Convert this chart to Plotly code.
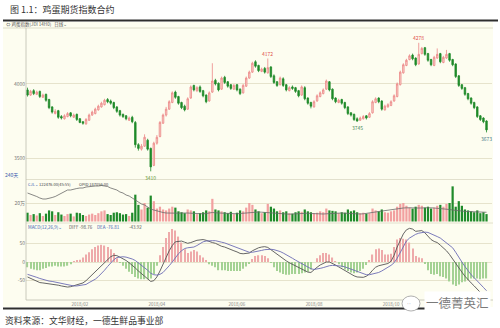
import plotly.graph_objects as go

W, H = 500, 328
FONT = "Noto Sans CJK SC, Noto Sans, sans-serif"

# ---------------- data ----------------
opens = [3960,3925,3955,3930,3950,3910,3930,3895,3845,3800,
         3820,3780,3765,3780,3805,3775,3795,3765,3745,3730,
         3755,3790,3800,3825,3845,3860,3895,3885,3875,3845,
         3820,3795,3785,3755,3775,3740,3590,3560,3580,3620,
         3565,3450,3600,3645,3735,3790,3830,3875,3945,3915,
         3875,3850,3830,3905,3990,3955,3980,3955,3925,3885,
         3945,4025,4005,3965,4045,4015,3995,3965,3995,3965,
         3940,3985,4040,4080,4150,4125,4085,4105,4075,4115,
         4055,4015,3995,4035,3995,3955,3980,3975,3955,3925,
         3975,3905,3875,3845,3885,3915,3935,3965,4015,3965,
         3905,3875,3895,3875,3845,3805,3795,3765,3755,3765,
         3785,3775,3805,3875,3905,3885,3825,3845,3855,3885,
         3915,3995,4075,4125,4165,4195,4175,4135,4205,4245,
         4205,4165,4125,4175,4205,4145,4175,4205,4165,4135,
         4055,3995,3975,3935,3905,3875,3845,3785,3770,3750]
highs = [3975,3960,3965,3955,3955,3935,3935,3900,3850,3830,
         3825,3790,3795,3810,3810,3800,3800,3770,3750,3770,
         3800,3820,3840,3860,3880,3900,3905,3895,3880,3850,
         3825,3800,3790,3780,3785,3750,3600,3595,3660,3630,
         3570,3610,3655,3750,3800,3845,3890,3950,3955,3920,
         3880,3860,3910,3990,3995,3985,3990,3960,3930,3950,
         4140,4035,4010,4050,4055,4020,4000,4000,4000,3970,
         4000,4050,4090,4150,4160,4130,4110,4115,4172,4120,
         4065,4020,4050,4045,4000,3985,3990,3980,3960,3990,
         3985,3910,3880,3890,3930,3950,3970,4030,4020,3970,
         3910,3900,3900,3880,3850,3810,3800,3775,3780,3790,
         3790,3810,3890,3910,3910,3890,3860,3870,3890,3930,
         4010,4090,4140,4170,4200,4205,4180,4278,4250,4250,
         4210,4170,4190,4240,4210,4190,4230,4210,4170,4140,
         4060,4000,3980,3940,3910,3880,3850,3790,3775,3755]
lows = [3915,3920,3925,3925,3905,3905,3880,3830,3800,3795,
        3765,3760,3760,3775,3775,3770,3750,3735,3725,3725,
        3750,3785,3795,3820,3840,3855,3870,3860,3830,3805,
        3780,3770,3755,3750,3735,3570,3550,3550,3575,3550,
        3410,3445,3590,3640,3730,3780,3825,3870,3900,3860,
        3830,3815,3825,3900,3950,3945,3940,3910,3870,3880,
        3940,3990,3950,3960,4000,3975,3960,3960,3950,3925,
        3935,3980,4035,4075,4110,4080,4080,4070,4070,4040,
        4000,3980,3990,3980,3950,3950,3960,3940,3910,3920,
        3890,3860,3835,3840,3880,3910,3930,3960,3950,3890,
        3870,3870,3860,3830,3790,3780,3750,3745,3750,3760,
        3760,3770,3800,3870,3870,3820,3820,3840,3850,3880,
        3910,3990,4070,4120,4160,4160,4120,4130,4200,4190,
        4150,4120,4120,4170,4140,4140,4170,4150,4120,4040,
        3980,3960,3920,3890,3860,3830,3770,3750,3735,3673]
closes = [3925,3950,3935,3945,3915,3925,3890,3840,3810,3815,
          3775,3770,3785,3800,3785,3790,3760,3740,3735,3760,
          3790,3810,3830,3850,3870,3890,3880,3870,3840,3815,
          3790,3780,3765,3770,3745,3590,3565,3580,3640,3560,
          3440,3600,3640,3740,3790,3830,3880,3940,3910,3870,
          3840,3825,3900,3980,3960,3975,3950,3920,3880,3940,
          4020,4000,3960,4040,4010,3985,3970,3990,3960,3935,
          3990,4040,4080,4140,4120,4090,4100,4080,4110,4050,
          4010,3990,4040,3990,3960,3975,3970,3950,3920,3980,
          3900,3870,3850,3880,3920,3940,3960,4020,3960,3900,
          3880,3890,3870,3840,3800,3790,3760,3750,3770,3780,
          3770,3800,3880,3900,3880,3830,3850,3860,3880,3920,
          4000,4080,4130,4160,4190,4170,4130,4200,4240,4200,
          4160,4130,4180,4200,4150,4180,4200,4160,4130,4050,
          3990,3970,3930,3900,3870,3840,3780,3760,3745,3690]

# volume (thousand lots)
volume_k = [95,70,80,65,90,60,85,120,110,70,
            100,75,60,80,85,55,95,90,70,60,
            75,85,70,90,110,120,80,70,95,100,
            90,75,80,60,95,290,180,130,200,150,
            280,220,140,160,130,120,140,160,150,110,
            100,90,130,120,110,80,90,100,120,110,
            245,130,120,110,100,90,105,80,95,120,
            110,150,200,180,130,110,90,100,190,160,
            140,110,120,100,110,90,85,100,110,105,
            130,110,100,90,95,110,100,140,120,115,
            110,90,100,95,130,110,120,100,90,95,
            85,90,140,120,110,130,100,95,110,120,
            160,190,200,170,150,140,160,180,170,150,
            160,140,150,170,180,160,190,200,380,160,
            220,170,130,120,110,100,120,90,100,80]

# open interest (thousand lots)
oi_k = [380,370,360,345,330,320,320,325,335,345,
        360,380,395,410,410,420,425,430,430,440,
        445,445,450,450,455,450,445,430,420,410,
        390,380,360,350,330,310,290,270,260,240,
        220,210,200,190,185,180,178,175,175,178,
        180,182,180,178,175,172,170,172,175,180,
        185,182,180,178,175,172,170,170,172,175,
        178,180,185,190,192,190,188,185,182,180,
        178,175,172,170,168,168,170,172,175,178,
        180,178,175,172,170,168,170,172,175,178,
        180,182,180,178,175,172,170,168,170,172,
        175,180,185,190,195,200,205,210,215,220,
        225,228,230,232,235,232,230,228,230,232,
        235,232,230,228,225,222,220,215,210,205,
        200,198,196,195,193,192,190,189,188,187.056]

diff = [-40,-44,-48,-52,-55,-56,-57,-57,-58,-59,
        -62,-64,-66,-67,-66,-64,-62,-60,-56,-50,
        -42,-34,-26,-17,-8,0,8,14,18,17,
        13,9,4,-2,-8,-16,-24,-32,-38,-45,
        -52,-50,-40,-24,-8,12,30,44,54,56,
        56,53,50,52,56,58,59,60,58,54,
        52,50,45,42,40,36,33,30,27,23,
        22,22,24,30,35,38,40,41,39,33,
        26,19,14,8,3,-2,-6,-11,-16,-19,
        -24,-27,-28,-20,-14,-8,-3,0,0,-3,
        -8,-13,-18,-23,-28,-33,-37,-40,-41,-41,
        -38,-32,-22,-14,-10,-8,-8,-4,2,18,
        40,58,75,86,90,88,82,83,84,78,
        68,60,55,52,45,38,30,20,8,-6,
        -18,-27,-38,-48,-56,-64,-72,-82,-90,-98.76]
dea = [-33,-35,-38,-41,-44,-47,-49,-51,-52,-54,
       -56,-58,-60,-62,-63,-64,-64,-63,-62,-60,
       -55,-51,-46,-39,-31,-22,-12,-3,6,12,
       14,14,13,11,8,4,-2,-9,-15,-22,
       -30,-34,-35,-33,-28,-20,-10,0,12,22,
       30,36,38,38,40,44,50,54,56,57,
       57,57,56,53,51,48,45,42,39,35,
       31,28,26,26,27,29,31,33,34,34,
       33,31,28,24,20,15,10,5,0,-4,
       -10,-14,-18,-20,-19,-17,-15,-12,-10,-9,
       -9,-10,-11,-13,-16,-19,-22,-26,-29,-32,
       -34,-34,-32,-31,-28,-24,-18,-14,-9,-2,
       10,26,44,56,64,70,74,77,79,80,
       79,76,72,68,64,58,52,46,38,26,
       12,0,-12,-24,-34,-42,-50,-59,-68,-76.81]
macd_hist = [-14,-18,-20,-22,-22,-18,-16,-12,-12,-10,
             -12,-12,-12,-10,-6,2,4,6,12,20,
             26,34,40,44,46,44,40,34,24,10,
             -2,-10,-18,-26,-32,-40,-44,-46,-46,-46,
             -44,-32,-10,18,40,64,80,88,84,68,
             52,34,24,28,32,28,18,12,4,-6,
             -10,-14,-22,-22,-22,-24,-24,-24,-24,-24,
             -18,-12,-4,8,16,18,18,16,10,-2,
             -14,-24,-28,-32,-34,-34,-32,-32,-32,-30,
             -28,-26,-20,0,10,18,24,24,20,12,
             2,-6,-14,-20,-24,-28,-30,-28,-24,-18,
             -8,4,20,34,36,32,20,20,22,40,
             60,64,62,60,52,36,16,12,10,-4,
             -22,-32,-34,-32,-38,-40,-44,-52,-60,-64,
             -60,-54,-52,-48,-44,-44,-44,-46,-44,-43.92]

x_tick_pos = [17, 42, 68, 93, 118]
x_tick_labels = ["2018/02", "2018/04", "2018/06", "2018/08", "2018/10"]
price_ticks = [3500, 4000]
price_tick_labels = ["3500", "4000"]
vol_ticks = [200000]
vol_tick_labels = ["20万"]
macd_ticks = [-50, 0, 50]
macd_tick_labels = ["-50", "0", "50"]

# marked extremes: (candle index, price, colour)
marks = [(127, 4278, "#e0504a"), (78, 4172, "#e0504a"),
         (40, 3410, "#6a9a3a"), (107, 3745, "#4a8a5a"), (149, 3673, "#4a7a8a")]

N = len(closes)
for arr in (opens, highs, lows, volume_k, oi_k, diff, dea, macd_hist):
    assert len(arr) == N, len(arr)

idx = list(range(N))
UP_LINE, UP_FILL = "#ec8686", "#f8d4cc"
DN = "#1f8a2a"

def py(p):
    return 1 - p / H

fig = go.Figure()
fig.add_trace(go.Candlestick(
    x=idx, open=opens, high=highs, low=lows, close=closes,
    increasing=dict(line=dict(color=UP_LINE, width=0.8), fillcolor=UP_FILL),
    decreasing=dict(line=dict(color=DN, width=0.8), fillcolor=DN),
    whiskerwidth=0, xaxis="x", yaxis="y", showlegend=False, hoverinfo="skip"))

vol_colors = ["#f2a0a0" if c >= o else DN for o, c in zip(opens, closes)]
fig.add_trace(go.Bar(x=idx, y=[v * 1000 for v in volume_k], width=0.72,
                     marker=dict(color=vol_colors, line=dict(width=0)),
                     xaxis="x", yaxis="y2", showlegend=False, hoverinfo="skip"))
fig.add_trace(go.Scatter(x=idx, y=[v * 1000 for v in oi_k], mode="lines",
                         line=dict(color="#6a6a6a", width=0.8),
                         xaxis="x", yaxis="y4", showlegend=False, hoverinfo="skip"))

hist_colors = ["#eeaaaa" if v >= 0 else "#a4d294" for v in macd_hist]
fig.add_trace(go.Bar(x=idx, y=macd_hist, width=0.38,
                     marker=dict(color=hist_colors, line=dict(width=0)),
                     xaxis="x", yaxis="y3", showlegend=False, hoverinfo="skip"))
fig.add_trace(go.Scatter(x=idx, y=diff, mode="lines", line=dict(color="#555555", width=0.9),
                         xaxis="x", yaxis="y3", showlegend=False, hoverinfo="skip"))
fig.add_trace(go.Scatter(x=idx, y=dea, mode="lines", line=dict(color="#6c6cb4", width=0.9),
                         xaxis="x", yaxis="y3", showlegend=False, hoverinfo="skip"))

GRID = "#e6e3cc"
tickfont = dict(size=5, color="#777777", family=FONT)
common_y = dict(showline=False, zeroline=False, ticks="", gridcolor=GRID, gridwidth=0.8,
                tickfont=tickfont, anchor="x", fixedrange=True)

fig.update_layout(
    width=W, height=H, margin=dict(l=0, r=0, t=0, b=0),
    paper_bgcolor="white", plot_bgcolor="rgba(0,0,0,0)",
    showlegend=False, barmode="overlay",
    font=dict(family=FONT),
    xaxis=dict(domain=[26 / W, 492 / W], range=[-0.487, 150.78], anchor="y3",
               tickvals=x_tick_pos, ticktext=x_tick_labels, tickfont=dict(size=4.5, color="#888888", family=FONT),
               showgrid=False, zeroline=False, showline=False, ticks="",
               rangeslider=dict(visible=False), fixedrange=True),
    yaxis=dict(domain=[py(178), py(28)], range=[3365, 4378], tickvals=price_ticks,
               ticktext=price_tick_labels, **common_y),
    yaxis2=dict(domain=[py(222), py(180)], range=[-5400, 448600], tickvals=vol_ticks,
                ticktext=vol_tick_labels, **common_y),
    yaxis3=dict(domain=[py(300), py(224)], range=[-101.6, 101.6], tickvals=macd_ticks,
                ticktext=macd_tick_labels, **common_y),
    yaxis4=dict(overlaying="y2", range=[90000, 510000], visible=False, anchor="x", fixedrange=True),
)

shapes = []
def hline(y, x0, x1, color, width):
    shapes.append(dict(type="line", xref="paper", yref="paper", x0=x0 / W, x1=x1 / W,
                       y0=py(y), y1=py(y), line=dict(color=color, width=width)))

shapes.append(dict(type="rect", xref="paper", yref="paper", x0=3 / W, x1=493 / W,
                   y0=py(307), y1=py(22), fillcolor="#fdfdf0", line=dict(width=0), layer="below"))
hline(20.5, 3, 498, "#2e2e2e", 2)
hline(28, 3, 493, "#d6d4bf", 0.8)
hline(179.5, 26, 493, "#dad8c4", 0.8)
hline(223, 26, 493, "#dad8c4", 0.8)
hline(300, 26, 493, "#bcbcae", 0.8)
hline(308.5, 3, 490, "#2e2e2e", 2)
shapes.append(dict(type="line", xref="paper", yref="paper", x0=26 / W, x1=26 / W,
                   y0=py(300), y1=py(28), line=dict(color="#bcbcae", width=0.8)))
# watermark logo bubble
shapes.append(dict(type="circle", xref="paper", yref="paper", x0=402 / W, x1=420 / W,
                   y0=py(311), y1=py(296), fillcolor="white", line=dict(color="#9a9a9a", width=0.8)))
fig.update_layout(shapes=shapes)

anns = []
def note(x, y, text, size, color, xanchor="left", bg=None):
    d = dict(xref="paper", yref="paper", x=x / W, y=py(y), text=text, showarrow=False,
             xanchor=xanchor, yanchor="middle", font=dict(size=size, color=color, family=FONT))
    if bg:
        d["bgcolor"] = bg
    anns.append(d)

note(8, 9.5, "图 1.1：鸡蛋期货指数合约", 9, "#333333")
note(4, 24.5, "⇔ 鸡蛋指数(JDI 14H0)   日线⌄", 4.5, "#555555")
note(3, 175, "240天", 5, "#4060b0")
note(26, 183.5, "CJL⌄", 4, "#4060b0")
note(37, 183.5, "122476.00(45:55)", 4, "#444444")
note(77, 183.5, "OPID 187056.00", 4, "#444444")
note(26, 227, "MACD(12,26,9)⌄", 4.5, "#4060b0")
note(67, 227, "DIFF -98.76", 4.5, "#555555")
note(95, 227, "DEA -76.81", 4.5, "#4060b0")
note(127, 227, "-43.92", 4.5, "#555555")
note(424, 302.5, "一德菁英汇", 12.5, "#7a7a7a", bg="white")
note(405, 303, "ᐧᐧ", 6, "#888888")
note(3, 320, "资料来源：文华财经，一德生鲜品事业部", 8.8, "#333333")

for i, p, c in marks:
    shift = 5 if p > 4000 else -6
    anns.append(dict(x=i, y=p, xref="x", yref="y", text=str(p), showarrow=False,
                     yshift=shift, font=dict(size=5, color=c, family=FONT)))

fig.update_layout(annotations=anns)
fig.write_html("out.html")
